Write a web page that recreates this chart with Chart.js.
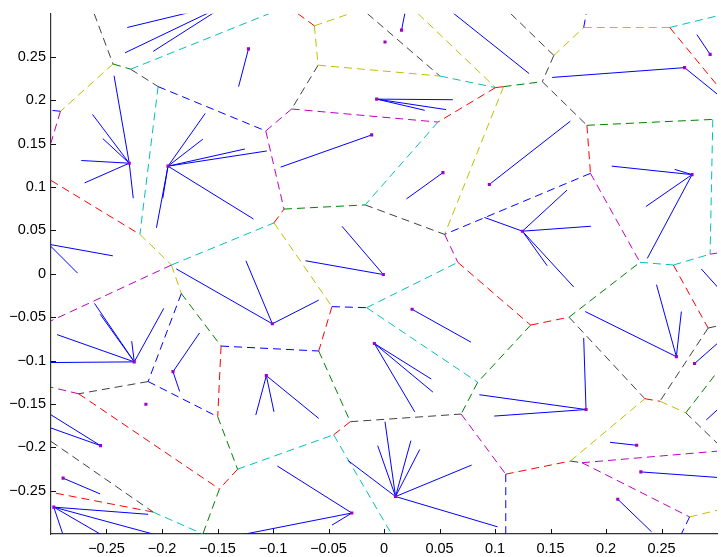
<!DOCTYPE html>
<html>
<head>
<meta charset="utf-8">
<script src="https://cdn.jsdelivr.net/npm/chart.js@4.4.0/dist/chart.umd.min.js"></script>
<style>
html, body { margin: 0; padding: 0; background: #fff; }
canvas { display: block; }
</style>
</head>
<body>
<canvas id="voronoi_plot" width="721" height="557"></canvas>
<script>
// tick labels on both axes
var tickVals = [-0.25, -0.2, -0.15, -0.1, -0.05, 0, 0.05, 0.1, 0.15, 0.2, 0.25];

// voronoi edges, one list per colour: [x1, y1, x2, y2]
var blackEdges = [
  [-0.2611, 0.3, -0.2441, 0.2420], [-0.2282, 0.2360, -0.2035, 0.2159],
  [-0.0594, 0.2406, -0.0832, 0.1901], [-0.0149, 0.3, 0.0504, 0.2281],
  [0.1142, 0.3, 0.1530, 0.2519], [0.1530, 0.2519, 0.1426, 0.2216],
  [0.1426, 0.2216, 0.1828, 0.1713], [-0.0170, 0.0795, 0.0546, 0.0455],
  [0.1679, -0.2159, 0.1784, -0.2178], [-0.2125, -0.1242, -0.2751, -0.1383],
  [-0.3, -0.1932, -0.2080, -0.2747], [0.1667, -0.0500, 0.2350, -0.1440],
  [0.2920, -0.0625, 0.3, -0.0602], [0.2920, -0.0625, 0.2486, -0.1469],
  [0.2719, -0.1602, 0.3, -0.1951], [-0.0304, -0.1705, 0.0695, -0.1617]
];
var greenEdges = [
  [-0.2441, 0.2420, -0.2282, 0.2360], [-0.0901, 0.0747, -0.0170, 0.0795],
  [0.1667, -0.0500, 0.2306, 0.0133], [0.1321, -0.0591, 0.0844, -0.1250],
  [0.0844, -0.1250, 0.0695, -0.1617], [0.1077, 0.2159, 0.1426, 0.2216],
  [0.1828, 0.1713, 0.2962, 0.1781], [-0.1826, -0.0227, -0.1468, -0.0833],
  [-0.1498, -0.1648, -0.1319, -0.2253], [-0.1483, -0.2481, -0.1632, -0.3],
  [-0.0588, -0.0890, -0.0304, -0.1705], [0.2719, -0.1602, 0.3, -0.1136]
];
var redEdges = [
  [-0.0776, 0.3, -0.0627, 0.2860], [0.1005, 0.2148, 0.0486, 0.1750],
  [0.1005, 0.2148, 0.1077, 0.2159], [0.2574, 0.2841, 0.3, 0.2178],
  [0.1828, 0.1713, 0.1860, 0.1159], [0.0665, 0.0133, 0.1321, -0.0591],
  [0.1321, -0.0591, 0.1667, -0.0500], [-0.3, 0.1077, -0.2199, 0.0455],
  [-0.0991, 0.0588, -0.0901, 0.0747], [-0.0469, -0.0378, -0.0588, -0.0890],
  [-0.1468, -0.0833, -0.1498, -0.1648], [-0.1319, -0.2253, -0.1483, -0.2481],
  [-0.2751, -0.1383, -0.1483, -0.2481], [-0.2080, -0.2747, -0.3, -0.2519],
  [-0.0304, -0.1705, -0.0454, -0.1856], [0.1097, -0.2310, 0.1679, -0.2159],
  [0.2607, 0.0102, 0.2920, -0.0625], [0.2350, -0.1440, 0.2486, -0.1469]
];
var cyanEdges = [
  [-0.2282, 0.2360, -0.1036, 0.3], [0.0504, 0.2281, 0.1005, 0.2148],
  [0.0486, 0.1750, -0.0170, 0.0795], [-0.2035, 0.2159, -0.2199, 0.0455],
  [-0.1915, 0.0102, -0.0991, 0.0588], [-0.0156, -0.0390, 0.0665, 0.0133],
  [-0.0156, -0.0390, 0.0844, -0.1250], [-0.0454, -0.1856, 0.0068, -0.3],
  [-0.1319, -0.2253, -0.0454, -0.1856], [-0.2080, -0.2747, -0.1632, -0.3],
  [0.2574, 0.2841, 0.3, 0.2974], [0.2962, 0.1781, 0.2938, 0.0227],
  [0.2306, 0.0133, 0.2607, 0.0102], [0.2607, 0.0102, 0.2938, 0.0227]
];
var magentaEdges = [
  [-0.1065, 0.1648, -0.0832, 0.1901], [-0.0832, 0.1901, 0.0486, 0.1750],
  [-0.2915, 0.1875, -0.3, 0.1511], [-0.1065, 0.1648, -0.0901, 0.0747],
  [0.0546, 0.0455, 0.0665, 0.0133], [0.1860, 0.1159, 0.2306, 0.0133],
  [0.2938, 0.0227, 0.3, 0.0239], [-0.1915, 0.0102, -0.3, -0.0542],
  [-0.2751, -0.1383, -0.3, -0.1307], [0.0695, -0.1617, 0.1097, -0.2310],
  [0.1784, -0.2178, 0.3, -0.2045], [0.1784, -0.2178, 0.2753, -0.2803]
];
var yellowEdges = [
  [-0.2441, 0.2420, -0.2915, 0.1875], [-0.0627, 0.2860, -0.0311, 0.3],
  [-0.0627, 0.2860, -0.0594, 0.2406], [-0.0594, 0.2406, 0.0504, 0.2281],
  [0.0307, 0.3, 0.1005, 0.2148], [0.1077, 0.2159, 0.0546, 0.0455],
  [0.1530, 0.2519, 0.1799, 0.2841], [0.1799, 0.2841, 0.2574, 0.2841],
  [-0.2199, 0.0455, -0.1915, 0.0102], [-0.0991, 0.0588, -0.0469, -0.0378],
  [-0.1915, 0.0102, -0.1826, -0.0227], [0.1679, -0.2159, 0.2350, -0.1440],
  [0.2486, -0.1469, 0.2719, -0.1602], [0.2753, -0.2803, 0.3, -0.2727]
];
var blueEdges = [
  [-0.2915, 0.1875, -0.3, 0.1886], [-0.2035, 0.2159, -0.1065, 0.1648],
  [0.1799, 0.2841, 0.1822, 0.3], [0.1860, 0.1159, 0.0546, 0.0455],
  [-0.0469, -0.0378, -0.0156, -0.0390], [-0.1826, -0.0227, -0.2125, -0.1242],
  [-0.2125, -0.1242, -0.1498, -0.1648], [-0.1468, -0.0833, -0.0588, -0.0890],
  [0.1097, -0.2310, 0.1097, -0.3], [0.2753, -0.2803, 0.2679, -0.3]
];

// cluster centres
var centerX = [-0.1394, -0.1221, -0.2295, -0.1946, 0.0158, 0.0009, 0.0396, -0.0066, -0.0111, 0.0531,
  0.0949, 0.2708, 0.2938, 0.2775, 0.1247, -0.0006, -0.1006, 0.0253, -0.0087, 0.0104,
  -0.0290, -0.1060, -0.2250, -0.1901, -0.2145, -0.2554, -0.2891, -0.2975, -0.3020, 0.1820,
  0.2634, 0.2798, 0.3081, 0.3081, 0.2276, 0.2314, 0.2106];
var centerY = [0.3125, 0.2594, 0.1276, 0.1242, 0.2810, 0.2674, 0.3239, 0.2015, 0.1602, 0.1167,
  0.1031, 0.2378, 0.2531, 0.1144, 0.0492, -0.0008, -0.0576, -0.0409, -0.0803, -0.2568,
  -0.2758, -0.1174, -0.1015, -0.1128, -0.1503, -0.1981, -0.2356, -0.2690, 0.0341, -0.1565,
  -0.0955, -0.1034, -0.0261, -0.1477, -0.1977, -0.2284, -0.2599];

// points, with the centre each one belongs to
var memberOf = [0, 0, 0, 1, 2, 2, 2, 2, 2, 2, 3, 3, 3, 3, 3, 3, 3, 4, 6, 7, 7, 7, 8, 9, 10, 11, 11, 12,
  13, 13, 13, 13, 14, 14, 14, 14, 14, 15, 15, 16, 16, 16, 17, 18, 18, 18,
  19, 19, 19, 19, 19, 19, 19, 20, 20, 20, 21, 21, 21, 22, 22, 22, 22, 22, 22, 23, 23,
  25, 25, 26, 27, 27, 27, 27, 28, 28, 29, 29, 29, 30, 30, 30, 31, 32, 33, 34, 35, 36];
var memberX = [-0.2313, -0.2333, -0.2080, -0.1310, -0.2432, -0.2626, -0.2533, -0.2727, -0.2697, -0.2259,
  -0.1611, -0.1632, -0.1253, -0.1056, -0.1176, -0.2050, -0.1993, 0.0195, 0.1307, 0.0620, 0.0560, 0.0367,
  -0.0931, 0.0202, 0.1679, 0.1515, 0.3050, 0.2819, 0.2052, 0.2619, 0.2359, 0.2372,
  0.1649, 0.1864, 0.1470, 0.1709, 0.0904, -0.0379, -0.0707, -0.1871, -0.1244, -0.0588, 0.0784,
  0.0277, 0.0426, 0.0441, 0.0009, -0.0057, 0.0242, 0.0322, 0.0790, -0.0326, 0.1023,
  -0.0961, -0.1340, -0.0469, -0.1155, -0.0588, -0.0991,
  -0.3020, -0.2608, -0.2557, -0.2945, -0.2273, -0.1984, -0.1662, -0.1841,
  -0.3020, -0.3020, -0.2557, -0.2125, -0.2050, -0.2542, -0.2891, -0.2443, -0.2760,
  0.1799, 0.0859, 0.0993, 0.2455, 0.2679, 0.1813, 0.3050, 0.2858, 0.2903, 0.2037, 0.3020, 0.2410];
var memberY = [0.2841, 0.2549, 0.2565, 0.2159, 0.2284, 0.1838, 0.1560, 0.1307, 0.1049, 0.0872,
  0.1849, 0.1553, 0.1440, 0.1417, 0.0633, 0.0531, 0.0872, 0.3050, 0.2310, 0.2008, 0.1894, 0.1886,
  0.1231, 0.0864, 0.1761, 0.2265, 0.2023, 0.2758, 0.1242, 0.1205, 0.0776, 0.0178,
  0.0966, 0.0549, 0.0094, -0.0151, 0.0651, 0.0549, 0.0151, 0.0057, 0.0151, -0.0303, -0.0788,
  -0.1591, -0.1213, -0.1364, -0.1705, -0.1981, -0.1924, -0.2026, -0.2205, -0.2151, -0.2917,
  -0.2216, -0.3023, -0.2898, -0.1628, -0.1667, -0.1591,
  -0.1023, -0.0341, -0.0466, -0.0701, -0.0776, -0.0398, -0.0682, -0.1356,
  -0.1610, -0.1769, -0.2538, -0.2773, -0.3011, -0.3011, -0.3011, 0.0208, 0.0008,
  -0.0739, -0.1394, -0.1640, -0.0125, -0.0435, -0.0435, -0.0750, 0.0057, -0.1685, -0.1943, -0.2349, -0.2974];

// turn [x1,y1,x2,y2] lists into one line with gaps between pieces
function segData(list) {
  var out = [];
  list.forEach(function(s) {
    out.push({x: s[0], y: s[1]}, {x: s[2], y: s[3]}, {x: s[2], y: null});
  });
  return out;
}

var links = [];
memberOf.forEach(function(c, i) {
  links.push([centerX[c], centerY[c], memberX[i], memberY[i]]);
});
var centerPts = centerX.map(function(x, i) { return {x: x, y: centerY[i]}; });

function edgeSet(list, color) {
  return {data: segData(list), borderColor: color, borderWidth: 1, borderDash: [8, 5],
          pointRadius: 0, spanGaps: false, fill: false};
}

// inward tick marks, like the original axes
var tickMarks = {
  id: 'tickMarks',
  afterDraw: function(chart) {
    var ctx = chart.ctx, xs = chart.scales.x, ys = chart.scales.y, a = chart.chartArea;
    ctx.save();
    ctx.strokeStyle = '#111';
    ctx.lineWidth = 1;
    ctx.beginPath();
    tickVals.forEach(function(v) {
      var px = Math.round(xs.getPixelForValue(v)) + 0.5;
      ctx.moveTo(px, a.bottom); ctx.lineTo(px, a.bottom - 5);
      var py = Math.round(ys.getPixelForValue(v)) + 0.5;
      ctx.moveTo(a.left, py); ctx.lineTo(a.left + 5, py);
    });
    ctx.stroke();
    ctx.restore();
  }
};

function fmt(v) {
  var s = String(Math.round(v * 100) / 100);
  return s.replace('-', '\u2212');
}

var ctx = document.getElementById('voronoi_plot').getContext('2d');
var chart = new Chart(ctx, {
  type: 'line',
  data: {
    datasets: [
      {data: centerPts, showLine: false, pointRadius: 2.2, pointBackgroundColor: '#a000c8',
       pointBorderWidth: 0, pointStyle: 'rect'},
      {data: segData(links), borderColor: '#0000ff', borderWidth: 1, pointRadius: 0, spanGaps: false, fill: false},
      edgeSet(blueEdges, '#0000ff'),
      edgeSet(greenEdges, '#008000'),
      edgeSet(redEdges, '#ff0000'),
      edgeSet(cyanEdges, '#00bfbf'),
      edgeSet(magentaEdges, '#bf00bf'),
      edgeSet(yellowEdges, '#bfbf00'),
      edgeSet(blackEdges, '#404040')
    ]
  },
  options: {
    responsive: false,
    animation: false,
    devicePixelRatio: 1,
    layout: {padding: {top: 6, right: 0, left: 0, bottom: 0}},
    plugins: {legend: {display: false}, tooltip: {enabled: false}},
    scales: {
      x: {
        type: 'linear', min: -0.3, max: 0.3,
        grid: {display: false, drawTicks: false},
        border: {display: true, color: '#333', width: 1.2},
        afterBuildTicks: function(s) { s.ticks = tickVals.map(function(v) { return {value: v}; }); },
        afterFit: function(s) { s.height = 23; },
        ticks: {color: '#000', padding: 6, maxRotation: 0, autoSkip: false,
                font: {family: "'Liberation Sans', Arial, sans-serif", size: 14.5},
                callback: function(v) { return fmt(v); }}
      },
      y: {
        type: 'linear', min: -0.3, max: 0.3,
        grid: {display: false, drawTicks: false},
        border: {display: true, color: '#333', width: 1.2},
        afterBuildTicks: function(s) { s.ticks = tickVals.map(function(v) { return {value: v}; }); },
        afterFit: function(s) { s.width = 51; },
        ticks: {color: '#000', padding: 5, autoSkip: false,
                font: {family: "'Liberation Sans', Arial, sans-serif", size: 14.5},
                callback: function(v) { return fmt(v); }}
      }
    }
  },
  plugins: [tickMarks]
});
</script>
</body>
</html>
